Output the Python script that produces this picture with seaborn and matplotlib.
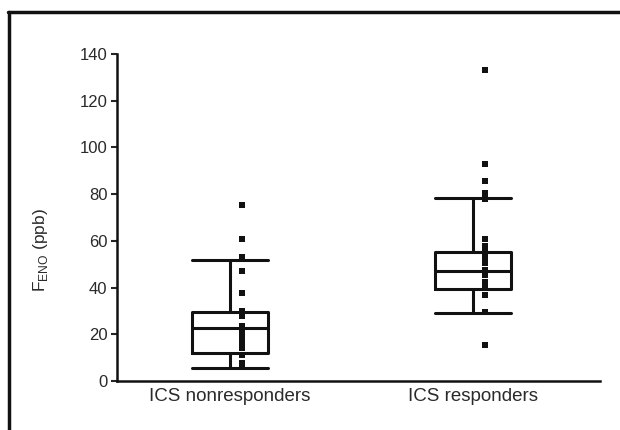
import numpy as np
import pandas as pd
import matplotlib
matplotlib.use("Agg")
import matplotlib.pyplot as plt
import matplotlib.transforms as mtransforms
from matplotlib.lines import Line2D
import seaborn as sns

# groups and individual FeNO values (ppb)
groups = ["ICS nonresponders", "ICS responders"]
nonresp_vals = [75.5, 61, 53, 47, 37.5, 30, 28, 23.5, 21, 19, 16.5, 14, 11, 7.5, 6]
resp_vals = [133, 93, 85.5, 80.5, 78, 61, 58, 56, 54, 52, 50.5, 47.5, 45.5,
             42.5, 40.5, 37, 29.5, 15.5]

# box summaries: lower whisker, Q1, median, Q3, upper whisker
whis_low = [5.7, 29.0]
q1 = [11.8, 39.4]
medians = [22.5, 47.0]
q3 = [29.7, 55.1]
whis_high = [51.7, 78.2]

y_ticks = [0, 20, 40, 60, 80, 100, 120, 140]

sns.set_style("ticks")
plt.rcParams["font.family"] = ["Liberation Sans", "DejaVu Sans"]
plt.rcParams["mathtext.fontset"] = "custom"
plt.rcParams["mathtext.rm"] = "Liberation Sans"

df = pd.DataFrame({
    "group": [groups[0]] * len(nonresp_vals) + [groups[1]] * len(resp_vals),
    "feno": nonresp_vals + resp_vals,
})

fig = plt.figure(figsize=(6.2, 4.3), dpi=100)
ax = fig.add_axes([117 / 620, 1 - 381 / 430, 483 / 620, 327 / 430])

# points, drawn as a single column beside each box
sns.stripplot(data=df, x="group", y="feno", order=groups, jitter=False,
              marker="s", size=4.2, color="#111111", linewidth=0, ax=ax, zorder=3)
shift = mtransforms.ScaledTranslation(12 / 100, 0, fig.dpi_scale_trans)
for coll in ax.collections:
    coll.set_transform(coll.get_transform() + shift)

stats = []
for i in range(len(groups)):
    stats.append({"whislo": whis_low[i], "q1": q1[i], "med": medians[i],
                  "q3": q3[i], "whishi": whis_high[i], "fliers": []})
line = dict(color="#111111", linewidth=2.2)
ax.bxp(stats, positions=[0, 1], widths=0.31, showfliers=False,
       boxprops=line, whiskerprops=line, capprops=line, medianprops=line,
       capwidths=0.31, manage_ticks=False, zorder=2)

ax.set_xlim(-0.465, 1.523)
ax.set_ylim(0, 140)
ax.set_yticks(y_ticks)
ax.set_xticks([0, 1])
ax.set_xticklabels(groups)
ax.set_xlabel("")
ax.set_ylabel("F$_{\\mathrm{ENO}}$ (ppb)", fontsize=12.5, color="#2a2a2a")
ax.yaxis.set_label_coords(-0.139, 0.40)
ax.tick_params(axis="y", length=4, width=1.5, labelsize=12, labelcolor="#2a2a2a", pad=3)
ax.tick_params(axis="x", length=0, labelsize=13.5, labelcolor="#2a2a2a", pad=5)
for side in ["top", "right"]:
    ax.spines[side].set_visible(False)
for side in ["left", "bottom"]:
    ax.spines[side].set_linewidth(1.8)
    ax.spines[side].set_color("#111111")

# outer frame of the figure panel
fig.add_artist(Line2D([8 / 620, 1.0], [1 - 12 / 430, 1 - 12 / 430],
                      transform=fig.transFigure, color="#111111", linewidth=2.5))
fig.add_artist(Line2D([9 / 620, 9 / 620], [0.0, 1 - 12 / 430],
                      transform=fig.transFigure, color="#111111", linewidth=2.5))

fig.savefig("out.png", dpi=100)
